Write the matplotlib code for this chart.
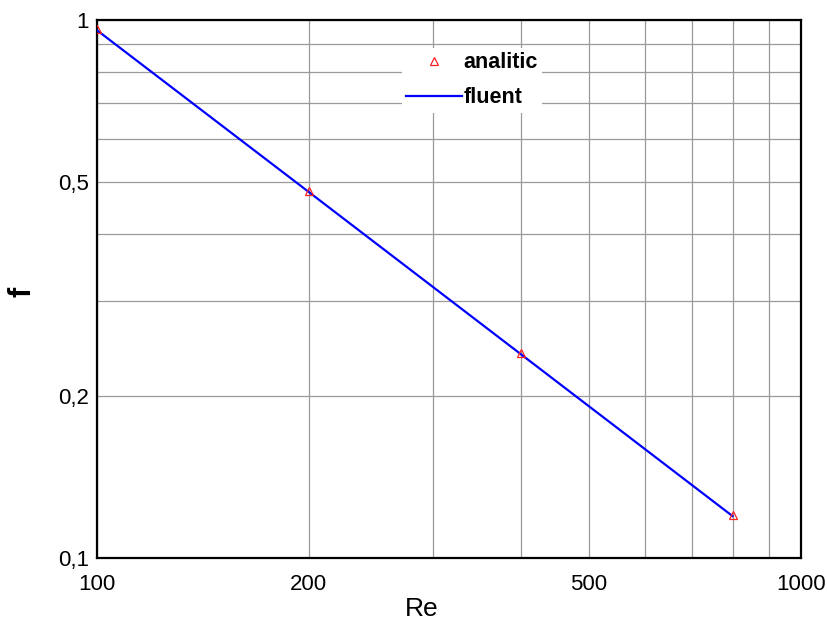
import matplotlib
matplotlib.use("Agg")
import matplotlib.pyplot as plt

plt.rcParams['font.family'] = ['Liberation Sans', 'DejaVu Sans']

# Data
re_analitic = [100, 200, 400, 800]
f_analitic = [0.96, 0.48, 0.24, 0.12]
re_fluent = [100, 200, 400, 800]
f_fluent = [0.955, 0.478, 0.239, 0.1195]

x_major = [100, 200, 500, 1000]
x_major_labels = ["100", "200", "500", "1000"]
x_minor = [300, 400, 600, 700, 800, 900]
y_major = [0.1, 0.2, 0.5, 1.0]
y_major_labels = ["0,1", "0,2", "0,5", "1"]
y_minor = [0.3, 0.4, 0.6, 0.7, 0.8, 0.9]

W, H = 828, 622
fig = plt.figure(figsize=(W / 100, H / 100), dpi=100)
L, R, T, B = 97, 800.7, 19.5, 557.7
ax = fig.add_axes([L / W, 1 - B / H, (R - L) / W, (B - T) / H])

ax.set_xscale('log')
ax.set_yscale('log')
ax.set_xlim(100, 1000)
ax.set_ylim(0.1, 1.0)

ax.plot(re_analitic, f_analitic, linestyle='none', marker='^', markersize=6,
        markerfacecolor='none', markeredgecolor='#ff2020', markeredgewidth=0.9,
        label='analitic', zorder=4)
ax.plot(re_fluent, f_fluent, color='#0000ff', linewidth=1.6, label='fluent', zorder=3)

ax.set_xticks(x_major)
ax.set_xticklabels(x_major_labels)
ax.set_xticks(x_minor, minor=True)
ax.set_xticklabels([], minor=True)
ax.set_yticks(y_major)
ax.set_yticklabels(y_major_labels)
ax.set_yticks(y_minor, minor=True)
ax.set_yticklabels([], minor=True)

ax.tick_params(which='both', length=0)
ax.tick_params(axis='x', which='major', labelsize=16, pad=12)
ax.tick_params(axis='y', which='major', labelsize=16, pad=6)

ax.grid(True, which='both', color='#9a9a9a', linewidth=0.9)
ax.set_axisbelow(True)

for s in ax.spines.values():
    s.set_linewidth(1.6)
    s.set_color('black')

ax.set_xlabel('Re', fontsize=19)
ax.xaxis.set_label_coords((422 - L) / (R - L), (B - 597) / (B - T))
ax.set_ylabel('f', fontsize=22, fontweight='bold', va='center')
ax.yaxis.set_label_coords((22.5 - L) / (R - L), (B - 291.7) / (B - T))

leg = ax.legend(loc='upper left', bbox_to_anchor=(402 / W, 1 - 48 / H),
                bbox_transform=fig.transFigure, frameon=True, fancybox=False,
                facecolor='white', edgecolor='none', framealpha=1,
                prop={'weight': 'bold', 'size': 15.5}, handlelength=2.6,
                handletextpad=0.05, borderpad=0.2, borderaxespad=0,
                labelspacing=0.65, numpoints=1)

fig.savefig('out.png', dpi=100)
